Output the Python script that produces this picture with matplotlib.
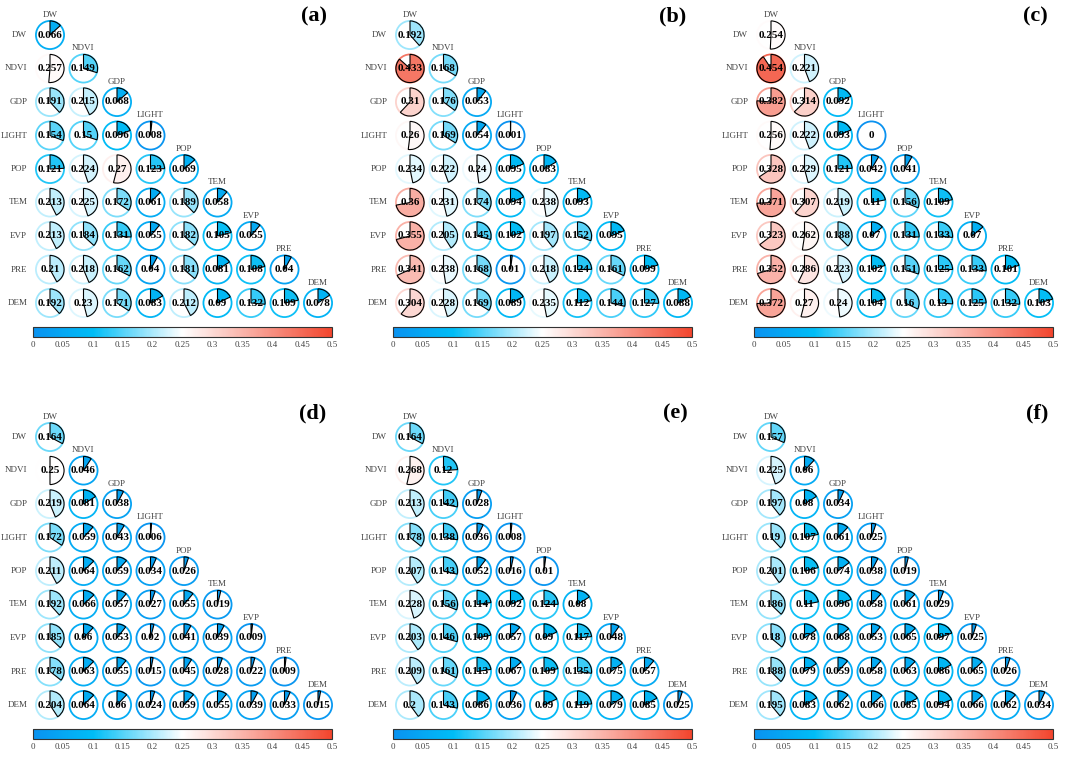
import matplotlib
matplotlib.use("Agg")
import matplotlib.pyplot as plt
from matplotlib.patches import Circle, Wedge
from matplotlib.colors import LinearSegmentedColormap, Normalize
from matplotlib.cm import ScalarMappable
import numpy as np

plt.rcParams['font.family'] = ['Liberation Serif', 'DejaVu Serif']

variables = ["DW", "NDVI", "GDP", "LIGHT", "POP", "TEM", "EVP", "PRE", "DEM"]
panel_labels = ["(a)", "(b)", "(c)", "(d)", "(e)", "(f)"]
cbar_ticks = [0, 0.05, 0.1, 0.15, 0.2, 0.25, 0.3, 0.35, 0.4, 0.45, 0.5]
cbar_ticklabels = ["0", "0.05", "0.1", "0.15", "0.2", "0.25", "0.3", "0.35", "0.4", "0.45", "0.5"]

panel_a = [
    [0.066],
    [0.257, 0.149],
    [0.191, 0.215, 0.068],
    [0.154, 0.15, 0.096, 0.008],
    [0.121, 0.224, 0.27, 0.123, 0.069],
    [0.213, 0.225, 0.172, 0.061, 0.189, 0.058],
    [0.213, 0.184, 0.131, 0.055, 0.182, 0.105, 0.055],
    [0.21, 0.218, 0.162, 0.04, 0.181, 0.081, 0.108, 0.04],
    [0.192, 0.23, 0.171, 0.083, 0.212, 0.09, 0.132, 0.109, 0.078],
]
panel_b = [
    [0.192],
    [0.433, 0.168],
    [0.31, 0.176, 0.053],
    [0.26, 0.169, 0.054, 0.001],
    [0.234, 0.222, 0.24, 0.095, 0.083],
    [0.36, 0.231, 0.174, 0.094, 0.238, 0.093],
    [0.355, 0.205, 0.145, 0.102, 0.197, 0.152, 0.095],
    [0.341, 0.238, 0.168, 0.01, 0.218, 0.124, 0.161, 0.099],
    [0.304, 0.228, 0.169, 0.089, 0.235, 0.112, 0.144, 0.127, 0.088],
]
panel_c = [
    [0.254],
    [0.454, 0.221],
    [0.382, 0.314, 0.092],
    [0.256, 0.222, 0.093, 0],
    [0.328, 0.229, 0.121, 0.042, 0.041],
    [0.371, 0.307, 0.219, 0.11, 0.156, 0.109],
    [0.323, 0.262, 0.188, 0.07, 0.131, 0.133, 0.07],
    [0.352, 0.286, 0.223, 0.102, 0.151, 0.125, 0.133, 0.101],
    [0.372, 0.27, 0.24, 0.104, 0.16, 0.13, 0.125, 0.132, 0.103],
]
panel_d = [
    [0.164],
    [0.25, 0.046],
    [0.219, 0.081, 0.038],
    [0.172, 0.059, 0.043, 0.006],
    [0.211, 0.064, 0.059, 0.034, 0.026],
    [0.192, 0.066, 0.057, 0.027, 0.055, 0.019],
    [0.185, 0.06, 0.053, 0.02, 0.041, 0.039, 0.009],
    [0.178, 0.063, 0.055, 0.015, 0.045, 0.028, 0.022, 0.009],
    [0.204, 0.064, 0.06, 0.024, 0.059, 0.055, 0.039, 0.033, 0.015],
]
panel_e = [
    [0.164],
    [0.268, 0.12],
    [0.213, 0.142, 0.028],
    [0.178, 0.138, 0.036, 0.008],
    [0.207, 0.143, 0.052, 0.016, 0.01],
    [0.228, 0.156, 0.114, 0.092, 0.124, 0.08],
    [0.203, 0.146, 0.109, 0.057, 0.09, 0.117, 0.048],
    [0.209, 0.161, 0.113, 0.067, 0.109, 0.135, 0.075, 0.057],
    [0.2, 0.143, 0.086, 0.036, 0.09, 0.119, 0.079, 0.085, 0.025],
]
panel_f = [
    [0.157],
    [0.225, 0.06],
    [0.197, 0.08, 0.034],
    [0.19, 0.107, 0.061, 0.025],
    [0.201, 0.106, 0.074, 0.038, 0.019],
    [0.186, 0.11, 0.096, 0.058, 0.061, 0.029],
    [0.18, 0.078, 0.068, 0.053, 0.065, 0.097, 0.025],
    [0.188, 0.079, 0.059, 0.058, 0.063, 0.086, 0.065, 0.026],
    [0.195, 0.083, 0.062, 0.066, 0.085, 0.094, 0.066, 0.062, 0.034],
]
panels = [panel_a, panel_b, panel_c, panel_d, panel_e, panel_f]

W, H = 1065, 760
fig = plt.figure(figsize=(W / 100, H / 100), dpi=100)

cmap = LinearSegmentedColormap.from_list(
    "bwr_custom",
    [(0.0, "#0a92f0"), (0.2, "#00bdf6"), (0.5, "#ffffff"), (1.0, "#f2452d")])
norm = Normalize(0, 0.5)

# layout (pixel anchors of the DW/DW circle, colorbar box)
origins = [(50, 35), (410, 35), (771, 35), (50, 437), (410, 437), (771, 437)]
cbars = [(33, 332, 327, 337), (393, 692, 327, 337), (754, 1053, 327, 337),
         (33, 332, 729, 739), (393, 692, 729, 739), (754, 1053, 729, 739)]
label_pos = [(314, 16), (673, 16), (1035, 16), (313, 413), (675, 413), (1037, 413)]
s = 33.5
R = 0.42

def fig_box(x0, x1, y0, y1):
    return [x0 / W, 1 - y1 / H, (x1 - x0) / W, (y1 - y0) / H]

for k, data in enumerate(panels):
    ox, oy = origins[k]
    xl, xr = -1.75, 8.6
    yt, yb = 1.05, -8.6
    ax = fig.add_axes(fig_box(ox + xl * s, ox + xr * s, oy - yt * s, oy - yb * s))
    ax.set_xlim(xl, xr)
    ax.set_ylim(yb, yt)
    ax.axis("off")
    for i, row in enumerate(data):
        for j, v in enumerate(row):
            c = cmap(norm(v))
            ax.add_patch(Circle((j, -i), R, facecolor="white", edgecolor=c, lw=1.3, zorder=2))
            if v > 0:
                ang = v / 0.5 * 360
                ax.add_patch(Wedge((j, -i), R, 90 - ang, 90, facecolor=c,
                                   edgecolor="black", lw=0.8, zorder=3))
            ax.text(j, -i, str(v), ha="center", va="center", fontsize=8,
                    fontweight="bold", color="black", zorder=4)
        ax.text(-0.68, -i, variables[i], ha="right", va="center", fontsize=6.5, color="#444444")
        ax.text(i, -i + 0.6, variables[i], ha="center", va="center", fontsize=6.5, color="#444444")
    lx, ly = label_pos[k]
    ax.text((lx - ox) / s, -(ly - oy) / s, panel_labels[k], ha="center", va="center",
            fontsize=16, fontweight="bold", clip_on=False)

    cx0, cx1, cy0, cy1 = cbars[k]
    cax = fig.add_axes(fig_box(cx0, cx1, cy0, cy1))
    cb = fig.colorbar(ScalarMappable(norm=norm, cmap=cmap), cax=cax, orientation="horizontal")
    cb.set_ticks(cbar_ticks)
    cb.set_ticklabels(cbar_ticklabels)
    cax.tick_params(length=0, pad=3, labelsize=6.5, labelcolor="#444444")
    cb.outline.set_linewidth(0.8)
    cb.outline.set_edgecolor("#333333")

fig.savefig("out.png", dpi=100)
